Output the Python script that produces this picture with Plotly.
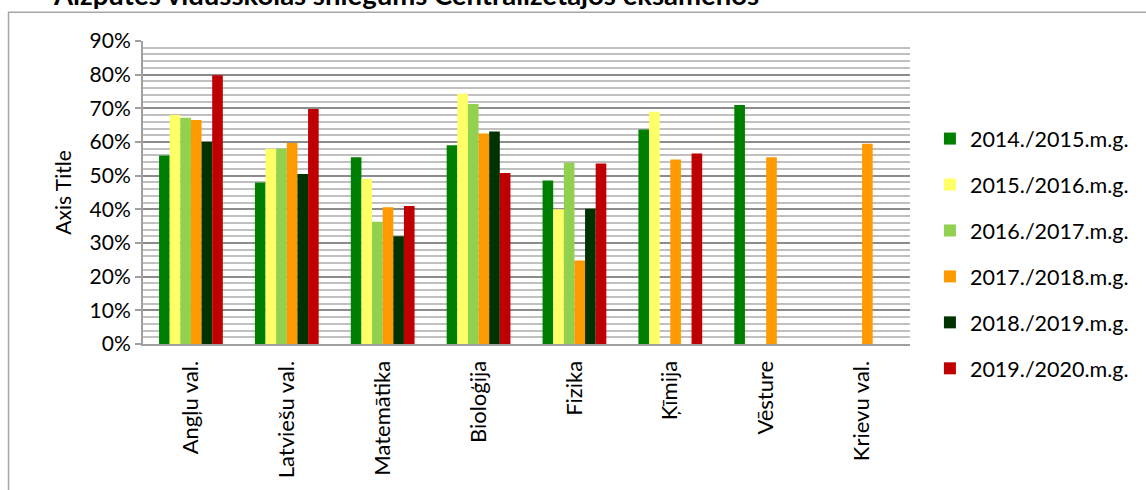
import plotly.graph_objects as go

subjects = ["Angļu val.", "Latviešu val.", "Matemātika", "Bioloģija",
            "Fizika", "Ķīmija", "Vēsture", "Krievu val."]

years = ["2014./2015.m.g.", "2015./2016.m.g.", "2016./2017.m.g.",
         "2017./2018.m.g.", "2018./2019.m.g.", "2019./2020.m.g."]

y2015 = [56, 48, 55.5, 59, 48.6, 63.7, 71, None]
y2016 = [68, 58, 49, 74.3, 40, 69, None, None]
y2017 = [67.2, 58, 36.3, 71.3, 53.8, None, None, None]
y2018 = [66.5, 59.7, 40.6, 62.5, 24.8, 54.8, 55.5, 59.5]
y2019 = [60, 50.5, 32, 63.1, 40.2, None, None, None]
y2020 = [79.8, 69.8, 41, 50.8, 53.6, 56.6, None, None]

series = [y2015, y2016, y2017, y2018, y2019, y2020]
colors = ["#008000", "#ffff66", "#92d050", "#ff9900", "#003300", "#c00000"]

font = "Lato"

fig = go.Figure()
for name, vals, col in zip(years, series, colors):
    fig.add_trace(go.Bar(x=subjects, y=vals, name=name, legendgroup=name,
                         marker=dict(color=col, line=dict(width=0))))

# plot area in pixels: x 143..913, y 41..346
pl, pr, pt, pb = 143, 913, 41, 346
pw, ph = pr - pl, pb - pt


def px(x):
    return (x - pl) / pw


def py(y):
    return (pb - y) / ph


fig.update_layout(
    width=1146, height=490, autosize=False,
    margin=dict(l=pl, r=1146 - pr, t=pt, b=490 - pb),
    paper_bgcolor="white", plot_bgcolor="white",
    font=dict(family=font, size=21, color="#000000"),
    barmode="group", bargap=0.335, bargroupgap=0,
    showlegend=True,
    legend=dict(x=px(933), y=py(255), xanchor="left", yanchor="middle",
                traceorder="grouped", tracegroupgap=15, itemwidth=30,
                font=dict(family=font, size=21.5), bgcolor="rgba(0,0,0,0)"),
    xaxis=dict(tickangle=-90, showline=True, linecolor="#a0a0a0", linewidth=2,
               ticks="", ticklabelstandoff=6, showgrid=False,
               tickfont=dict(family=font, size=22)),
    yaxis=dict(range=[0, 90], dtick=10, ticksuffix="%",
               showline=True, linecolor="#a0a0a0", linewidth=2,
               ticks="outside", ticklen=6, tickcolor="#a0a0a0", tickwidth=2,
               showgrid=True, gridcolor="#8c8c8c", gridwidth=2,
               minor=dict(dtick=2, showgrid=True, gridcolor="#c0c0c0", gridwidth=2),
               tickfont=dict(family=font, size=21),
               title=dict(text="Axis Title", standoff=12,
                          font=dict(family=font, size=21)),
               zeroline=False),
)

fig.add_annotation(text="<b>Aizpūtes vidusskolas sniegums Centralizētajos eksāmenos</b>",
                   xref="paper", yref="paper", x=px(51), y=py(-6),
                   xanchor="left", yanchor="middle", showarrow=False,
                   font=dict(family=font, size=27.5, color="#000000"))

fig.add_shape(type="rect", xref="paper", yref="paper",
              x0=px(8), x1=px(1160), y0=py(500), y1=py(12),
              line=dict(color="#a6a6a6", width=1.5), layer="below")

fig.write_html("out.html", config={"displayModeBar": False},
               post_script="document.body.style.margin='0';document.body.style.overflow='hidden';")
